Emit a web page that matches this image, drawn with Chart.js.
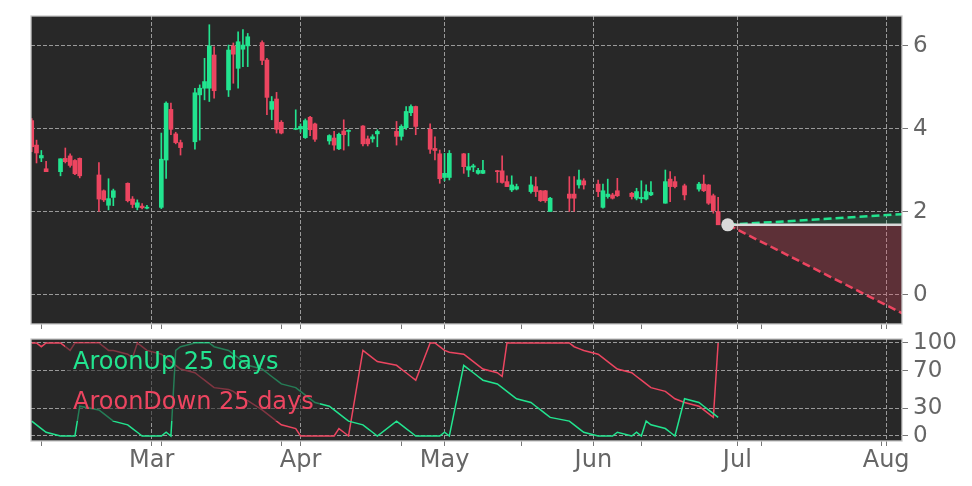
<!DOCTYPE html>
<html>
<head>
<meta charset="utf-8">
<script src="https://cdn.jsdelivr.net/npm/chart.js@4.4.1/dist/chart.umd.min.js"></script>
<style>
  html, body { margin: 0; padding: 0; background: #fff; }
  #wrap { position: relative; width: 972px; height: 486px; }
  #top { position: absolute; left: 0; top: 0; width: 972px; height: 340px; }
  #bot { position: absolute; left: 0; top: 330px; width: 972px; height: 156px; }
</style>
</head>
<body>
<div id="wrap">
  <div id="top"><canvas id="priceChart"></canvas></div>
  <div id="bot"><canvas id="aroonChart"></canvas></div>
</div>
<script>
// trading days as day-of-year numbers (Mar 1 = 60)
const days = [35,36,37,38, 41,42,43,44,45, 49,50,51,52, 55,56,57,58,59,
  62,63,64,65,66, 69,70,71,72,73, 76,77,78,79,80, 83,84,85,86,87,
  90,91,92,93,94, 97,98,99,100,101, 104,105,106,107, 111,112,113,114,115,
  118,119,120,121,122, 125,126,127,128,129, 132,133,134,135,136,
  139,140,141,142,143, 147,148,149,150, 153,154,155,156,157,
  160,161,162,163,164, 167,168,169,171, 174,175,176,177,178]

const openP = [4.20,3.61,3.30,3.04, 2.97,3.29,3.35,3.24,3.29, 2.89,2.51,2.16,2.35,
  2.69,2.31,2.11,2.14,2.09, 2.11,3.25,4.47,3.88,3.67, 3.69,4.82,4.98,4.98,5.78,
  4.94,6.00,5.46,5.92,6.00, 6.08,5.66,4.47,4.72,4.16, 3.99,4.00,3.79,4.28,4.12,
  3.71,3.78,3.52,3.95,3.94, 4.07,3.76,3.76,3.88, 3.94,3.82,4.03,4.39,4.54,
  3.99,3.53,3.40,2.83,2.83, 3.40,3.01,3.08,2.93,2.93, 2.99,2.99,2.73,2.53,2.55,
  2.49,2.61,2.51,2.51,2.01, 2.43,2.43,2.65,2.75, 2.67,2.11,2.37,2.41,2.51,
  2.45,2.33,2.32,2.31,2.41, 2.21,2.79,2.73,2.63, 2.55,2.67,2.65,2.39,2.01]

const highP = [4.25,3.73,3.48,3.22, 3.28,3.54,3.40,3.26,3.30, 3.19,2.53,2.80,2.55,
  2.70,2.37,2.29,2.20,2.16, 3.90,4.65,4.62,3.92,3.73, 4.98,5.06,5.70,6.51,5.98,
  6.02,6.07,6.34,6.39,6.30, 6.12,5.70,4.78,4.88,4.20, 4.46,4.12,4.24,4.30,4.14,
  3.86,3.94,3.90,4.22,3.98, 4.08,3.83,3.86,3.98, 4.18,4.10,4.54,4.58,4.55,
  4.12,3.81,3.49,3.41,3.48, 3.41,3.41,3.15,3.05,3.24, 3.00,3.35,2.87,2.87,2.67,
  2.85,2.84,2.52,2.52,2.35, 2.85,2.85,3.01,2.80, 2.77,2.67,2.79,2.45,2.81,
  2.47,2.57,2.75,2.65,2.73, 3.01,2.97,2.85,2.67, 2.71,2.89,2.66,2.43,2.35]

const lowP = [3.45,3.18,3.21,2.97, 2.87,3.18,3.08,2.90,2.82, 2.01,2.25,2.05,2.15,
  2.24,2.10,2.05,2.07,2.07, 2.08,2.81,3.86,3.64,3.37, 3.51,3.73,4.70,4.66,4.74,
  4.78,5.10,4.98,5.50,5.50, 5.55,4.34,4.22,3.90,3.88, 3.98,3.92,3.77,3.84,3.70,
  3.63,3.49,3.50,3.49,3.59, 3.59,3.59,3.68,3.57, 3.61,3.73,3.99,4.32,3.86,
  3.41,3.25,2.69,2.75,2.77, 2.93,2.85,2.97,2.91,2.92, 2.71,2.69,2.61,2.49,2.53,
  2.45,2.37,2.25,2.23,2.01, 2.01,2.01,2.57,2.55, 2.37,2.09,2.33,2.31,2.37,
  2.31,2.29,2.22,2.29,2.39, 2.21,2.25,2.58,2.29, 2.50,2.49,2.18,1.97,1.69]

const closeP = [3.57,3.42,3.36,2.97, 3.28,3.21,3.12,2.92,2.87, 2.31,2.29,2.32,2.51,
  2.27,2.18,2.22,2.10,2.11, 3.27,4.62,3.99,3.67,3.55, 4.87,4.98,5.14,6.00,4.92,
  5.90,5.80,6.10,6.02,6.22, 5.65,4.76,4.66,3.99,3.90, 4.01,4.06,4.20,3.98,3.75,
  3.84,3.61,3.87,3.86,3.96, 3.64,3.64,3.81,3.94, 3.82,4.06,4.42,4.54,4.06,
  3.51,3.48,2.80,2.93,3.41, 3.09,3.09,3.11,3.00,3.00, 2.97,2.71,2.61,2.65,2.61,
  2.65,2.49,2.27,2.27,2.33, 2.33,2.33,2.77,2.65, 2.49,2.51,2.43,2.33,2.39,
  2.37,2.49,2.35,2.49,2.47, 2.73,2.61,2.61,2.41, 2.67,2.51,2.21,2.03,1.69]

const aroonUp = [16,12,8,4, 0,0,0,0,32, 28,24,20,16, 12,8,4,0,0,
  0,4,0,92,96, 100,100,100,100,96, 92,88,84,80,76, 72,68,64,60,56,
  52,48,44,40,36, 32,28,24,20,16, 12,8,4,0, 16,12,8,4,0,
  0,0,0,4,0, 76,72,68,64,60, 56,52,48,44,40,
  36,32,28,24,20, 16,12,8,4, 0,0,0,0,4,
  0,4,0,16,12, 8,4,0,40, 36,32,28,24,20]

const aroonDown = [100,100,96,100, 100,96,92,100,100, 100,96,92,92, 88,84,100,96,92,
  88,84,80,76,72, 68,64,60,56,52, 50,48,44,40,38, 28,24,20,16,12,
  8,0,0,0,0, 0,0,8,4,0, 92,88,84,80, 76,72,68,64,60,
  100,100,96,92,90, 88,84,80,76,72, 68,64,100,100,100,
  100,100,100,100,100, 100,96,94,92, 88,84,80,76,72,
  68,64,60,56,52, 48,44,40,36, 32,28,24,20,100]

// forecast cone from the last close
const lastDay = [180]
const lastClose = [1.69]
const forecastDays = [180, 217]
const forecastMid = [1.69, 1.69]
const forecastHigh = [1.69, 1.95]
const forecastLow = [1.69, -0.48]

const monthTicks = [60, 91, 121, 152, 182, 213]
const monthLabels = ['Mar', 'Apr', 'May', 'Jun', 'Jul', 'Aug']
const minorTicks = [37, 62, 87, 112, 137, 162, 187, 212]
const priceTicks = [0, 2, 4, 6]
const aroonTicks = [0, 30, 70, 100]

const GREEN = '#22e48f'
const RED = '#ec4560'
const PANEL = '#282828'
const GRID = '#9a9a9a'
const LABEL = '#666666'

Chart.defaults.font.family = 'DejaVu Sans'

const xy = (xs, ys) => xs.map((x, i) => ({ x: x, y: ys[i] }))

const panelFrame = {
    id: 'panelFrame',
    beforeDraw(chart) {
        const { ctx, chartArea: a } = chart
        ctx.save()
        ctx.fillStyle = PANEL
        ctx.fillRect(a.left, a.top, a.width, a.height)
        ctx.restore()
    },
    afterDraw(chart) {
        const { ctx, chartArea: a } = chart
        ctx.save()
        ctx.strokeStyle = '#c8c8c8'
        ctx.lineWidth = 1.3
        ctx.strokeRect(a.left, a.top, a.width, a.height)
        ctx.restore()
    }
}

function noPadding(s) {
    s.paddingTop = 0
    s.paddingBottom = 0
    s.paddingLeft = 0
    s.paddingRight = 0
}

function xScale(showLabels) {
    return {
        type: 'linear',
        min: 34.85,
        max: 216.3,
        offset: false,
        afterBuildTicks: s => {
            s.ticks = monthTicks.concat(minorTicks).sort((a, b) => a - b).map(v => ({ value: v }))
        },
        grid: {
            offset: false,
            color: c => (c.tick && monthTicks.includes(c.tick.value)) ? GRID : 'rgba(0,0,0,0)',
            tickColor: '#777',
            tickLength: 5,
            lineWidth: 1
        },
        border: { display: false, dash: [4, 2] },
        ticks: {
            display: showLabels,
            autoSkip: false,
            maxRotation: 0,
            padding: 0,
            color: LABEL,
            font: { size: 24 },
            callback: v => {
                const i = monthTicks.indexOf(v)
                return i >= 0 ? monthLabels[i] : ''
            }
        },
        afterFit: s => {
            s.height = showLabels ? 45 : 16
            noPadding(s)
        }
    }
}

function yScale(min, max, tickList) {
    return {
        position: 'right',
        min: min,
        max: max,
        afterBuildTicks: s => { s.ticks = tickList.map(v => ({ value: v })) },
        grid: { color: GRID, tickColor: '#777', tickLength: 6, lineWidth: 1 },
        border: { display: false, dash: [4, 2] },
        ticks: { color: LABEL, padding: 5, font: { size: 23 }, callback: v => String(v) },
        afterFit: s => {
            s.width = 70
            noPadding(s)
        }
    }
}

const candleColors = closeP.map((c, i) => c >= openP[i] ? GREEN : RED)

const priceChart = new Chart(document.getElementById('priceChart'), {
    type: 'bar',
    data: {
        datasets: [
            {
                type: 'line',
                data: xy(lastDay, lastClose),
                showLine: false,
                pointRadius: 6.5,
                pointBackgroundColor: '#d9d9d9',
                pointBorderWidth: 0,
                order: 0
            },
            {
                // candle bodies
                data: days.map((d, i) => ({ x: d, y: [openP[i], closeP[i]] })),
                backgroundColor: candleColors,
                barThickness: 4,
                minBarLength: 1,
                grouped: false,
                order: 1
            },
            {
                // wicks
                data: days.map((d, i) => ({ x: d, y: [lowP[i], highP[i]] })),
                backgroundColor: candleColors,
                barThickness: 1,
                grouped: false,
                order: 2
            },
            {
                type: 'line',
                data: xy(forecastDays, forecastMid),
                borderColor: '#d9d9d9',
                borderWidth: 2.5,
                pointRadius: 0,
                order: 3
            },
            {
                type: 'line',
                data: xy(forecastDays, forecastHigh),
                borderColor: GREEN,
                borderWidth: 2.5,
                borderDash: [8, 4],
                pointRadius: 0,
                fill: 3,
                backgroundColor: 'rgba(34,228,143,0.15)',
                order: 4
            },
            {
                type: 'line',
                data: xy(forecastDays, forecastLow),
                borderColor: RED,
                borderWidth: 2.5,
                borderDash: [8, 4],
                pointRadius: 0,
                fill: 3,
                backgroundColor: 'rgba(236,69,96,0.27)',
                order: 5
            }
        ]
    },
    options: {
        responsive: true,
        maintainAspectRatio: false,
        animation: false,
        events: [],
        layout: { padding: { left: 31, top: 16, right: 0, bottom: 0 } },
        plugins: { legend: { display: false }, tooltip: { enabled: false } },
        scales: {
            x: xScale(false),
            y: yScale(-0.7, 6.72, priceTicks)
        }
    },
    plugins: [panelFrame]
});

const aroonLegend = {
    id: 'aroonLegend',
    afterDatasetsDraw(chart) {
        const { ctx, chartArea: a } = chart
        ctx.save()
        ctx.fillStyle = 'rgba(40,40,40,0.55)'
        ctx.fillRect(a.left + 34, a.top + 4, 255, 78)
        ctx.font = '24px "DejaVu Sans"'
        ctx.textBaseline = 'alphabetic'
        ctx.fillStyle = GREEN
        ctx.fillText('AroonUp 25 days', a.left + 42, a.top + 30)
        ctx.fillStyle = RED
        ctx.fillText('AroonDown 25 days', a.left + 42, a.top + 70)
        ctx.restore()
    }
}

const aroonChart = new Chart(document.getElementById('aroonChart'), {
    type: 'line',
    data: {
        datasets: [
            {
                label: 'AroonUp 25 days',
                data: xy(days, aroonUp),
                borderColor: GREEN,
                borderWidth: 1.5,
                pointRadius: 0
            },
            {
                label: 'AroonDown 25 days',
                data: xy(days, aroonDown),
                borderColor: RED,
                borderWidth: 1.5,
                pointRadius: 0
            }
        ]
    },
    options: {
        responsive: true,
        maintainAspectRatio: false,
        animation: false,
        events: [],
        layout: { padding: { left: 31, top: 9, right: 0, bottom: 0 } },
        plugins: { legend: { display: false }, tooltip: { enabled: false } },
        scales: {
            x: xScale(true),
            y: yScale(-5.4, 104.3, aroonTicks)
        }
    },
    plugins: [panelFrame, aroonLegend]
});
</script>
</body>
</html>
